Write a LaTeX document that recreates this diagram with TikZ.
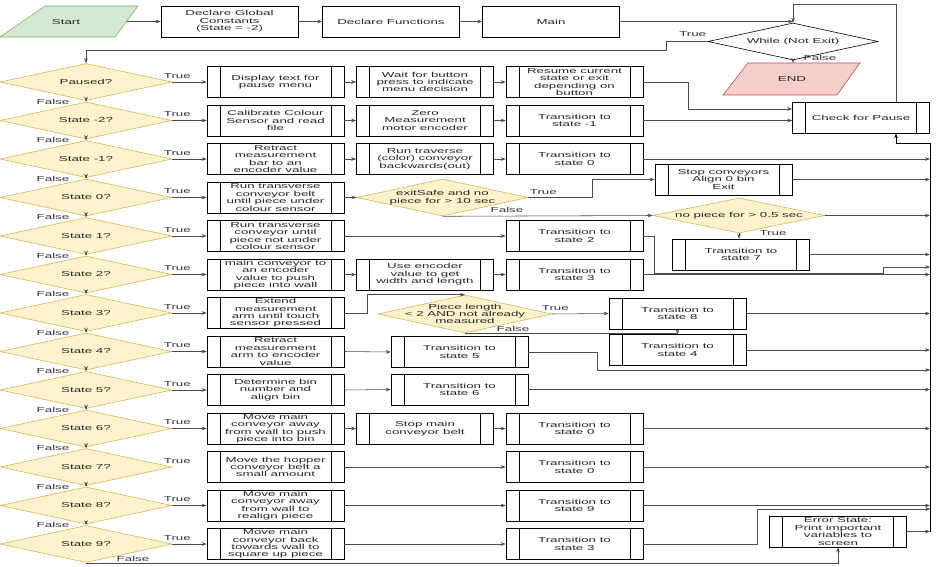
\documentclass[tikz,border=0pt]{standalone}
\usepackage{fontspec}
\setmainfont[FakeStretch=1.85]{Liberation Sans}
\usetikzlibrary{shapes.geometric,arrows.meta}
\definecolor{dfill}{HTML}{FFF2CC}
\definecolor{dline}{HTML}{D6B656}
\definecolor{gfill}{HTML}{D5E8D4}
\definecolor{gline}{HTML}{82B366}
\definecolor{rfill}{HTML}{F8CECC}
\definecolor{rline}{HTML}{B85450}
\begin{document}
\begin{tikzpicture}[x=1pt,y=-1pt,
  every node/.style={font=\fontsize{7.2}{7.4}\selectfont, align=center, inner sep=0pt, text=black!85},
  box/.style={draw=black, line width=0.6pt, fill=white, minimum width=137pt, minimum height=31pt},
  sub/.style={box, path picture={\draw[line width=0.6pt]
      ([xshift=13pt]path picture bounding box.north west) -- ([xshift=13pt]path picture bounding box.south west)
      ([xshift=-13pt]path picture bounding box.north east) -- ([xshift=-13pt]path picture bounding box.south east);}},
  dec/.style={diamond, draw=dline, fill=dfill, line width=0.6pt, minimum width=172pt, minimum height=37pt},
  arr/.style={draw=black!70, line width=0.55pt, -{Stealth[length=5pt,width=3.6pt]}},
  ln/.style={draw=black!70, line width=0.55pt},
  lbl/.style={text=black!80},
]
\useasboundingbox (0,0) rectangle (940,567);

% ---------- top row ----------
\draw[draw=gline, fill=gfill, line width=0.6pt] (0,37) -- (45,6) -- (138,6) -- (115,37) -- cycle;
\node (start) at (66,22) {Start};
\coordinate (startR) at (126.5,21.5);
\node[box] (dgc) at (229.5,21.5) {Declare Global\\Constants\\(State = -2)};
\node[box] (df) at (391,21.5) {Declare Functions};
\node[box] (main) at (551,21.5) {Main};
\draw[arr] (startR) -- (dgc.west);
\draw[arr] (dgc) -- (df);
\draw[arr] (df) -- (main);

\node[diamond, draw=black, fill=white, line width=0.6pt, minimum width=170pt, minimum height=37pt] (wh) at (793,41.5) {};
\node (wht) at (wh) {While (Not Exit)};
\draw[draw=rline, fill=rfill, line width=0.6pt] (723,95) -- (748,63) -- (860,63) -- (837,95) -- cycle;
\node (endn) at (792,79) {END};
\coordinate (endtop) at (793,63);
\draw[arr] (wh.south) -- (endtop);
\node[lbl] (whf) at ([xshift=27pt,yshift=2pt]wh.south) {False};
\draw[arr] (main.east) -- (main.east -| wh.north);

\node[sub] (cfp) at (861,117.5) {Check for Pause};
\coordinate (lp) at (896,4);
\draw[arr] (cfp.north -| lp) -- (lp) -| (wh.north);

% ---------- decisions ----------
\foreach \n/\y/\t in {0/82/Paused?, 1/120.5/State -2?, 2/159/State -1?, 3/197.5/State 0?,
  4/236/State 1?, 5/274.5/State 2?, 6/313/State 3?, 7/351.5/State 4?, 8/390/State 5?,
  9/428.5/State 6?, 10/467/State 7?, 11/505.5/State 8?, 12/544/State 9?}{
  \node[dec] (d\n) at (86,\y) {};
  \node (d\n t) at (d\n) {\t};
}

\draw[arr] (wh.west) -- ++(-41,0) -- ++(0,8.5) -| (d0.north);
\node[lbl] (whtr) at ([xshift=-15pt,yshift=7pt]wh.west) {True};

\foreach \a/\b in {0/1,1/2,2/3,3/4,4/5,5/6,6/7,7/8,8/9,9/10,10/11,11/12}{
  \draw[arr] (d\a.south) -- (d\b.north) node[lbl, pos=0, xshift=-33pt, yshift=-1pt] {False};
}
\foreach \a in {0,...,12}{
  \node[lbl] (tl\a) at ([xshift=5pt,yshift=6pt]d\a.east) {True};
}

% ---------- column 1 ----------
\node[sub] (c1r0) at (275.5,82) {Display text for\\pause menu};
\node[sub] (c1r1) at (275.5,120.5) {Calibrate Colour\\Sensor and read\\file};
\node[sub] (c1r2) at (275.5,159) {Retract\\measurement\\bar to an\\encoder value};
\node[sub] (c1r3) at (275.5,197.5) {Run transverse\\conveyor belt\\until piece under\\colour sensor};
\node[sub] (c1r4) at (275.5,236) {Run transverse\\conveyor until\\piece not under\\colour sensor};
\node[sub] (c1r5) at (275.5,274.5) {main conveyor to\\an encoder\\value to push\\piece into wall};
\node[sub] (c1r6) at (275.5,313) {Extend\\measurement\\arm until touch\\sensor pressed};
\node[sub] (c1r7) at (275.5,351.5) {Retract\\measurement\\arm to encoder\\value};
\node[sub] (c1r8) at (275.5,390) {Determine bin\\number and\\align bin};
\node[sub] (c1r9) at (275.5,428.5) {Move main\\conveyor away\\from wall to push\\piece into bin};
\node[sub] (c1r10) at (275.5,467) {Move the hopper\\conveyor belt a\\small amount};
\node[sub] (c1r11) at (275.5,505.5) {Move main\\conveyor away\\from wall to\\realign piece};
\node[sub] (c1r12) at (275.5,544) {Move main\\conveyor back\\towards wall to\\square up piece};

\foreach \a in {0,...,9,11,12}{
  \draw[arr] (d\a.east) -- (c1r\a.west);
}

% ---------- column 2 ----------
\node[sub] (c2r0) at (425,82) {Wait for button\\press to indicate\\menu decision};
\node[sub] (c2r1) at (425,120.5) {Zero\\Measurement\\motor encoder};
\node[sub] (c2r2) at (425,159) {Run traverse\\(color) conveyor\\backwards(out)};
\node[sub] (c2r5) at (425,274.5) {Use encoder\\value to get\\width and length};
\node[sub] (c2r9) at (425,428.5) {Stop main\\conveyor belt};

% ---------- column 3 ----------
\node[sub] (c3r0) at (574.5,82) {Resume current\\state or exit\\depending on\\button};
\node[sub] (c3r1) at (574.5,120.5) {Transition to\\state -1};
\node[sub] (c3r2) at (574.5,159) {Transition to\\state 0};
\node[sub] (c3r4) at (574.5,236) {Transition to\\state 2};
\node[sub] (c3r5) at (574.5,274.5) {Transition to\\state 3};
\node[sub] (c3r9) at (574.5,428.5) {Transition to\\state 0};
\node[sub] (c3r10) at (574.5,467) {Transition to\\state 0};
\node[sub] (c3r11) at (574.5,505.5) {Transition to\\state 9};
\node[sub] (c3r12) at (574.5,544) {Transition to\\state 3};

\foreach \a in {0,1,2,5,9}{
  \draw[arr] (c1r\a.east) -- (c2r\a.west);
  \draw[arr] (c2r\a.east) -- (c3r\a.west);
}
\foreach \a in {4,10,11,12}{
  \draw[arr] (c1r\a.east) -- (c3r\a.west);
}

% ---------- bus ----------
\coordinate (bus) at (930,0);
\coordinate (bt) at (930,143);
\coordinate (bb) at (930,531.5);
\draw[arr, draw=black, line width=0.8pt] (bb) -- (bt) -| (lp |- cfp.south);

\draw[arr] (c3r0.east) -- ++(45,0) |- ([yshift=8.5pt]cfp.west);
\draw[arr] (c3r1.east) -- (c3r1.east -| cfp.west);
\foreach \a in {2,5,9,10,11}{
  \draw[arr] (c3r\a.east) -- (c3r\a.east -| bus);
}
\draw[arr] (c3r4.east) -- ++(11,0) -- ++(0,37) -- ++(229,0) -- ++(0,-6) -- ++(47,0);
\draw[arr] (c3r12.east) -- ++(114,0) -- ++(0,-35) -- ++(173,0);

% ---------- state 0 branch ----------
\node[dec, minimum width=171pt, minimum height=37pt] (es) at (442.5,197.5) {};
\node (est) at (es) {exitSafe and no\\piece for > 10 sec};
\node[sub] (stop) at (723.5,179.5) {Stop conveyors\\Align 0 bin\\Exit};
\node[dec, minimum width=172pt, minimum height=35pt] (nop) at (739,215.5) {};
\node (nopt) at (nop) {no piece for > 0.5 sec};
\node[sub] (t7) at (741,254.5) {Transition to\\state 7};
\draw[arr] (c1r3.east) -- (es.west);
\draw[arr] (es.east) -- ++(64,0) |- (stop.west);
\node[lbl] (estr) at ([xshift=15pt,yshift=5.5pt]es.east) {True};
\draw[arr] (es.south) -- (nop.west);
\node[lbl] (esf) at ([xshift=64.5pt,yshift=6pt]es.south) {False};
\draw[arr] (stop.east) -- (stop.east -| bus);
\draw[arr] (nop.east) -- (nop.east -| bus);
\draw[arr] (nop.south) -- (nop.south |- t7.north);
\node[lbl] (noptr) at ([xshift=34pt]nop.south) {True};
\draw[arr] (t7.east) -- (t7.east -| bus);

% ---------- state 3 branch ----------
\node[dec, minimum width=174pt, minimum height=38pt] (pl) at (465,314) {};
\node (plt) at (pl) {Piece length\\< 2 AND not already\\measured};
\node[sub] (t8) at (677.5,313.5) {Transition to\\state 8};
\node[sub] (t4) at (677.5,350) {Transition to\\state 4};
\draw[arr] (c1r6.east) -- ++(23,0) |- (pl.north);
\draw[arr] (pl.east) -- (t8.west);
\node[lbl] (pltr) at ([xshift=3pt,yshift=6pt]pl.east) {True};
\draw[arr] (pl.south) -| (t4.north);
\node[lbl] (plf) at ([xshift=48pt,yshift=4pt]pl.south) {False};
\draw[arr] (t8.east) -- (t8.east -| bus);
\draw[arr] (t4.east) -- (t4.east -| bus);

% ---------- states 4, 5 ----------
\node[sub] (t5) at (459.5,352) {Transition to\\state 5};
\node[sub] (t6) at (459.5,389.5) {Transition to\\state 6};
\draw[arr] (c1r7.east) -- (t5.west);
\draw[arr] (c1r8.east) -- (t6.west);
\draw[arr] (t5.east) -- ++(69,0) -- ++(0,18) -- ++(333,0);
\draw[arr] (t6.east) -- (t6.east -| bus);

% ---------- error state ----------
\node[sub] (err) at (838,531.5) {Error State:\\Print important\\variables to\\screen};
\draw[arr] (d12.south) -| (err.south);
\node[lbl] (d12f) at ([xshift=47pt,yshift=3.5pt]d12.south) {False};
\draw[arr] (err.east) -- (err.east -| bus);
\end{tikzpicture}
\end{document}
